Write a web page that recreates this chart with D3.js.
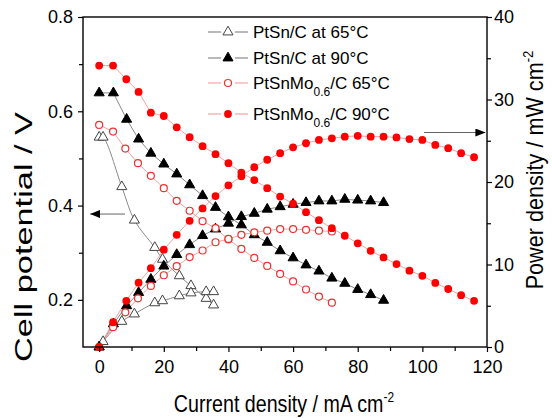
<!DOCTYPE html>
<html>
<head>
<meta charset="utf-8">
<script src="https://cdn.jsdelivr.net/npm/d3@7"></script>
<style>
  body { margin: 0; background: #fff; }
  svg { display: block; }
  text { font-family: Arial, "Liberation Sans", sans-serif; fill: #000; }
</style>
</head>
<body>
<div id="chart"></div>
<script>
// Datos (corriente en mA cm-2, potencial en V, potencia en mW cm-2)
const ptsn65I = [0, 1.2, 7, 10.9, 17.2, 19.6, 24.8, 28.4, 33.1, 35.4];
const ptsn65V = [0.545, 0.545, 0.44, 0.369, 0.311, 0.286, 0.251, 0.230, 0.203, 0.189];
const ptsn65P = [0, 0.65, 3.1, 4.0, 5.35, 5.6, 6.2, 6.55, 6.7, 6.7];

const ptsn90I = [0, 4.4, 8.5, 12.2, 16, 20, 24, 28, 32, 36, 40, 44, 48, 52, 56, 60, 64, 68, 72, 76, 80, 84, 88];
const ptsn90V = [0.639, 0.639, 0.583, 0.541, 0.511, 0.488, 0.467, 0.444, 0.421, 0.396, 0.376, 0.359,
                 0.338, 0.322, 0.304, 0.289, 0.274, 0.261, 0.246, 0.235, 0.222, 0.211, 0.199];
const ptsn90P = [0, 2.8, 5.0, 6.6, 8.2, 9.8, 11.2, 12.4, 13.5, 14.3, 15.0, 15.8,
                 16.2, 16.7, 17.0, 17.3, 17.5, 17.7, 17.7, 17.9, 17.8, 17.7, 17.5];

const mo65I = [0, 4.3, 8.1, 12, 16, 20, 24, 28, 32, 36, 40, 44, 48, 52, 56, 60, 64, 68, 72];
const mo65V = [0.571, 0.557, 0.521, 0.49, 0.463, 0.437, 0.41, 0.389, 0.367, 0.352, 0.328, 0.308,
               0.289, 0.272, 0.255, 0.239, 0.222, 0.207, 0.194];
const mo65P = [0, 2.4, 4.2, 5.9, 7.4, 8.7, 9.8, 10.9, 11.7, 12.7, 13.1, 13.6,
               13.9, 14.1, 14.3, 14.3, 14.2, 14.1, 14.0];

const mo90I = [0, 4.3, 8.4, 12.2, 16, 20, 24, 28, 32, 36, 40, 44, 48, 52, 56, 60, 64, 68, 72, 76,
               80, 84, 88, 92, 96, 100, 104, 108, 112, 116];
const mo90V = [0.697, 0.697, 0.668, 0.641, 0.597, 0.590, 0.566, 0.545, 0.526, 0.509, 0.49, 0.47,
               0.454, 0.437, 0.419, 0.404, 0.386, 0.369, 0.352, 0.336, 0.32, 0.304, 0.29, 0.276,
               0.262, 0.251, 0.236, 0.223, 0.21, 0.198];
const mo90P = [0, 3.0, 5.6, 7.8, 9.55, 11.8, 13.6, 15.3, 16.8, 18.3, 19.6, 20.7,
               21.8, 22.7, 23.5, 24.2, 24.7, 25.1, 25.3, 25.5, 25.6, 25.5, 25.5, 25.4,
               25.2, 25.1, 24.5, 24.1, 23.5, 23.0];

const legendNames = ["PtSn/C at 65°C", "PtSn/C at 90°C", "PtSnMo_0.6_/C 65°C", "PtSnMo_0.6_/C 90°C"];
const xTicks = [0, 20, 40, 60, 80, 100, 120];
const yLeftTicks = [0.2, 0.4, 0.6, 0.8];
const yRightTicks = [0, 10, 20, 30, 40];

const width = 552, height = 418;
const plot = { left: 83, right: 487, top: 17, bottom: 347 };

const svg = d3.select("#chart").append("svg")
  .attr("width", width).attr("height", height);

const x = d3.scaleLinear().domain([-5, 120]).range([plot.left, plot.right]);
const yL = d3.scaleLinear().domain([0.1, 0.8]).range([plot.bottom, plot.top]);
const yR = d3.scaleLinear().domain([0, 40]).range([plot.bottom, plot.top]);

// Tabla de series
const series = [
  { I: ptsn65I, V: ptsn65V, P: ptsn65P, shape: "tri", fill: "#fff", stroke: "#444", line: "#8a8a8a", curve: d3.curveCatmullRom },
  { I: ptsn90I, V: ptsn90V, P: ptsn90P, shape: "tri", fill: "#000", stroke: "#000", line: "#8a8a8a", curve: d3.curveLinear },
  { I: mo65I, V: mo65V, P: mo65P, shape: "circ", fill: "#fff", stroke: "#f03030", line: "#f5a3a3", curve: d3.curveLinear },
  { I: mo90I, V: mo90V, P: mo90P, shape: "circ", fill: "#ff0000", stroke: "#ff0000", line: "#f5a3a3", curve: d3.curveLinear }
];

const triPath = d3.symbol().type(d3.symbolTriangle).size(44)();

function drawMarker(g, s, px, py) {
  if (s.shape === "tri") {
    g.append("path").attr("d", triPath)
      .attr("transform", `translate(${px},${py})`)
      .attr("fill", s.fill).attr("stroke", s.stroke).attr("stroke-width", 1);
  } else {
    g.append("circle").attr("cx", px).attr("cy", py)
      .attr("r", s.fill === "#fff" ? 3.5 : 3.9)
      .attr("fill", s.fill).attr("stroke", s.stroke).attr("stroke-width", s.fill === "#fff" ? 1.2 : 0);
  }
}

// Lineas
const lines = svg.append("g");
series.forEach(s => {
  const vLine = d3.line().curve(s.curve).x((d, i) => x(s.I[i])).y(d => yL(d));
  const pLine = d3.line().curve(s.curve).x((d, i) => x(s.I[i])).y(d => yR(d));
  lines.append("path").attr("d", vLine(s.V)).attr("fill", "none").attr("stroke", s.line).attr("stroke-width", 1);
  lines.append("path").attr("d", pLine(s.P)).attr("fill", "none").attr("stroke", s.line).attr("stroke-width", 1);
});

// Marcadores
const marks = svg.append("g");
series.forEach(s => {
  s.I.forEach((c, i) => {
    drawMarker(marks, s, x(c), yL(s.V[i]));
    drawMarker(marks, s, x(c), yR(s.P[i]));
  });
});

// Ejes
function styleAxis(g) {
  g.select(".domain").remove();
  g.selectAll("line").attr("stroke", "#000").attr("stroke-width", 1.2);
  g.selectAll("text").attr("font-size", 18).attr("font-family", "Arial, 'Liberation Sans', sans-serif");
}

svg.append("g").attr("transform", `translate(${plot.left},0)`)
  .call(d3.axisLeft(yL).tickValues(yLeftTicks).tickSize(5).tickPadding(5).tickFormat(d3.format(".1f")))
  .call(styleAxis);
svg.append("g").attr("transform", `translate(${plot.left},0)`)
  .call(d3.axisLeft(yL).tickValues([0.3, 0.5, 0.7]).tickSize(4).tickFormat(""))
  .call(styleAxis);

svg.append("g").attr("transform", `translate(${plot.right},0)`)
  .call(d3.axisRight(yR).tickValues(yRightTicks).tickSize(5).tickPadding(2))
  .call(styleAxis);
svg.append("g").attr("transform", `translate(${plot.right},0)`)
  .call(d3.axisRight(yR).tickValues([5, 15, 25, 35]).tickSize(4).tickFormat(""))
  .call(styleAxis);

svg.append("g").attr("transform", `translate(0,${plot.bottom})`)
  .call(d3.axisBottom(x).tickValues(xTicks).tickSize(5).tickPadding(8))
  .call(styleAxis);
svg.append("g").attr("transform", `translate(0,${plot.bottom})`)
  .call(d3.axisBottom(x).tickValues([10, 30, 50, 70, 90, 110]).tickSize(4).tickFormat(""))
  .call(styleAxis);

// Marco
svg.append("rect")
  .attr("x", plot.left).attr("y", plot.top)
  .attr("width", plot.right - plot.left).attr("height", plot.bottom - plot.top)
  .attr("fill", "none").attr("stroke", "#000").attr("stroke-width", 1.4);

// Titulos de ejes
const xt = svg.append("text")
  .attr("transform", `translate(${(plot.left + plot.right) / 2 - 1},412) scale(0.855,1)`)
  .attr("text-anchor", "middle").attr("font-size", 23);
xt.append("tspan").text("Current density / mA cm");
xt.append("tspan").attr("font-size", 14).attr("dy", -10).text("-2");

svg.append("text")
  .attr("transform", "translate(32,237) rotate(-90)")
  .attr("text-anchor", "middle").attr("font-size", 23)
  .attr("textLength", 250).attr("lengthAdjust", "spacingAndGlyphs")
  .text("Cell potential / V");

const rt = svg.append("text")
  .attr("transform", "translate(543,170) rotate(-90) scale(0.94,1)")
  .attr("text-anchor", "middle").attr("font-size", 23);
rt.append("tspan").text("Power density / mW cm");
rt.append("tspan").attr("font-size", 14).attr("dy", -10).text("-2");

// Flechas
const defs = svg.append("defs");
defs.append("marker").attr("id", "arrow")
  .attr("viewBox", "0 0 10 8").attr("refX", 10).attr("refY", 4)
  .attr("markerWidth", 10).attr("markerHeight", 8).attr("markerUnits", "userSpaceOnUse")
  .attr("orient", "auto")
  .append("path").attr("d", "M0,0 L10,4 L0,8 Z").attr("fill", "#000");

svg.append("line")
  .attr("x1", x(8)).attr("x2", x(-2.8)).attr("y1", yL(0.382)).attr("y2", yL(0.382))
  .attr("stroke", "#666").attr("stroke-width", 1).attr("marker-end", "url(#arrow)");
svg.append("line")
  .attr("x1", x(100.5)).attr("x2", x(119.5)).attr("y1", yR(26)).attr("y2", yR(26))
  .attr("stroke", "#666").attr("stroke-width", 1).attr("marker-end", "url(#arrow)");

// Leyenda
const legendY = [32, 58, 83, 114];
const leg = svg.append("g");
legendNames.forEach((name, i) => {
  const s = series[i];
  const cy = legendY[i];
  leg.append("line").attr("x1", 208).attr("x2", 221).attr("y1", cy).attr("y2", cy)
    .attr("stroke", s.line).attr("stroke-width", 1.2);
  leg.append("line").attr("x1", 235).attr("x2", 248).attr("y1", cy).attr("y2", cy)
    .attr("stroke", s.line).attr("stroke-width", 1.2);
  drawMarker(leg, s, 228, cy);
  const t = leg.append("text").attr("x", 253).attr("y", cy + 6).attr("font-size", 17);
  const parts = name.split("_");
  t.append("tspan").text(parts[0]);
  if (parts.length > 1) {
    t.append("tspan").attr("font-size", 12).attr("dy", 7).text(parts[1]);
    t.append("tspan").attr("dy", -7).text(parts[2]);
  }
});
</script>
</body>
</html>
